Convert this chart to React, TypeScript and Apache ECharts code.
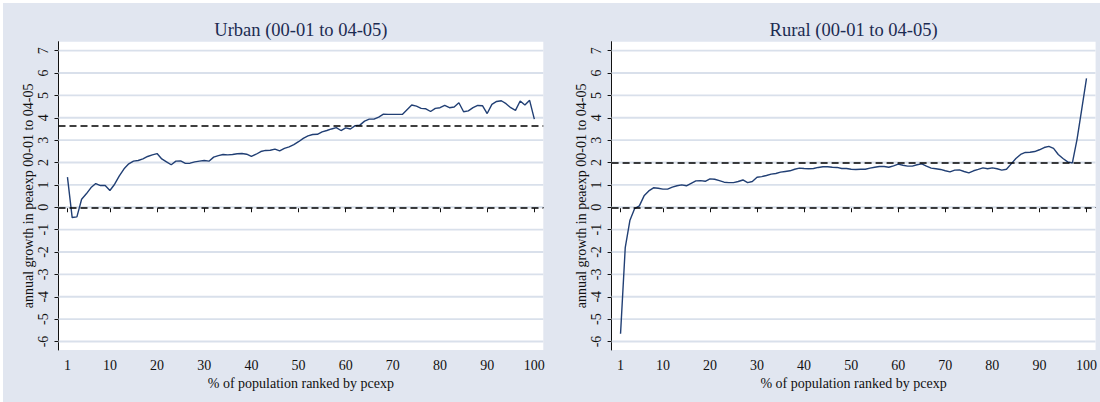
import React, { useEffect, useRef } from "react";
import * as echarts from "echarts";

const percentiles: number[] = Array.from({ length: 100 }, (_, i) => i + 1);

const urbanGrowth: number[] = [
  1.35, -0.46, -0.43, 0.36, 0.6, 0.88, 1.06, 0.97, 0.97, 0.75,
  1.03, 1.4, 1.72, 1.94, 2.06, 2.09, 2.16, 2.27, 2.34, 2.4,
  2.16, 2.03, 1.9, 2.06, 2.07, 1.96, 1.97, 2.03, 2.06, 2.09,
  2.06, 2.24, 2.31, 2.36, 2.34, 2.36, 2.39, 2.4, 2.37, 2.27,
  2.37, 2.49, 2.54, 2.55, 2.6, 2.52, 2.63, 2.7, 2.8, 2.93,
  3.08, 3.19, 3.25, 3.26, 3.37, 3.43, 3.5, 3.56, 3.43, 3.55,
  3.5, 3.65, 3.67, 3.85, 3.94, 3.94, 4.03, 4.16, 4.15, 4.15,
  4.15, 4.15, 4.36, 4.57, 4.52, 4.42, 4.4, 4.28, 4.42, 4.45,
  4.55, 4.45, 4.48, 4.67, 4.27, 4.31, 4.45, 4.55, 4.54, 4.19,
  4.6, 4.73, 4.76, 4.63, 4.45, 4.33, 4.75, 4.57, 4.78, 3.94,
];

const ruralGrowth: number[] = [
  -5.65, -1.8, -0.58, -0.06, 0.06, 0.51, 0.73, 0.87, 0.85, 0.81,
  0.81, 0.9, 0.96, 1.0, 0.96, 1.07, 1.18, 1.19, 1.16, 1.27,
  1.25, 1.19, 1.12, 1.1, 1.1, 1.15, 1.22, 1.1, 1.15, 1.34,
  1.37, 1.42, 1.48, 1.51, 1.57, 1.6, 1.63, 1.7, 1.75, 1.73,
  1.72, 1.73, 1.78, 1.81, 1.81, 1.79, 1.78, 1.73, 1.73, 1.7,
  1.69, 1.7, 1.7, 1.75, 1.79, 1.82, 1.82, 1.79, 1.85, 1.93,
  1.88, 1.84, 1.84, 1.9, 1.94, 1.84, 1.75, 1.72, 1.69, 1.63,
  1.58, 1.66, 1.67, 1.6, 1.54, 1.63, 1.69, 1.76, 1.72, 1.76,
  1.72, 1.66, 1.7, 1.94, 2.18, 2.36, 2.45, 2.46, 2.49, 2.57,
  2.67, 2.72, 2.63, 2.36, 2.18, 2.03, 1.98, 3.05, 4.4, 5.76,
];

const urbanMean = 3.63;
const ruralMean = 1.97;

const xTicks: number[] = [1, 10, 20, 30, 40, 50, 60, 70, 80, 90, 100];
const yTicks: number[] = [-6, -5, -4, -3, -2, -1, 0, 1, 2, 3, 4, 5, 6, 7];

const panelTitles: string[] = ["Urban (00-01 to 04-05)", "Rural (00-01 to 04-05)"];
const xTitle = "% of population ranked by pcexp";
const yTitle = "annual growth in peaexp 00-01 to 04-05";

const FONT = "'Liberation Serif', 'DejaVu Serif', serif";
const BG = "#e1e6f0";
const GRIDLINE = "#d9e0eb";
const LINE = "#213f74";
const TITLE_COLOR = "#1c2b52";

const X_MIN = -0.9;
const X_MAX = 101.9;

export default function App() {
  const ref = useRef<HTMLDivElement>(null);

  useEffect(() => {
    if (!ref.current) return;
    const chart = echarts.init(ref.current, undefined, { renderer: "svg" });

    const grids = [
      { left: 55.5, top: 38.7, width: 484.8, height: 308.3 },
      { left: 608.6, top: 38.7, width: 484, height: 308.3 },
    ];

    const xAxis = grids.map((_, i) => ({
      type: "value",
      gridIndex: i,
      min: X_MIN,
      max: X_MAX,
      name: xTitle,
      nameLocation: "middle",
      nameGap: 22.5,
      nameTextStyle: { fontFamily: FONT, fontSize: 14, color: "#111" },
      axisLine: { show: true, lineStyle: { color: "#111", width: 1 } },
      axisTick: { show: true, length: 5, lineStyle: { color: "#111" }, customValues: xTicks },
      axisLabel: {
        show: true,
        customValues: xTicks,
        margin: 8,
        fontFamily: FONT,
        fontSize: 14,
        color: "#111",
      },
      splitLine: { show: false },
    }));

    const yAxis = grids.map((_, i) => ({
      type: "value",
      gridIndex: i,
      min: -6.38,
      max: 7.4,
      name: yTitle,
      nameLocation: "middle",
      nameRotate: 90,
      nameGap: 22,
      nameTextStyle: { fontFamily: FONT, fontSize: 14, color: "#111" },
      axisLine: { show: true, onZero: false, lineStyle: { color: "#111", width: 1 } },
      axisTick: { show: true, length: 4, lineStyle: { color: "#111" }, customValues: yTicks },
      axisLabel: {
        show: true,
        customValues: yTicks,
        rotate: 90,
        margin: 8,
        fontFamily: FONT,
        fontSize: 14,
        color: "#111",
      },
      splitLine: { show: false },
    }));

    const gridLineSeries = (i: number) => ({
      type: "custom",
      name: "gridlines" + i,
      xAxisIndex: i,
      yAxisIndex: i,
      silent: true,
      z: 1,
      clip: false,
      data: yTicks.map((v) => [0, v]),
      renderItem: (_params: any, api: any) => {
        const v = api.value(1);
        const p1 = api.coord([X_MIN, v]);
        const p2 = api.coord([X_MAX, v]);
        return {
          type: "line",
          shape: { x1: p1[0], y1: p1[1], x2: p2[0], y2: p2[1] },
          style: { stroke: GRIDLINE, lineWidth: 1.8, fill: null },
        };
      },
    });

    const meanMarks = (mean: number) => ({
      silent: true,
      symbol: ["none", "none"],
      label: { show: false },
      lineStyle: { color: "#000", type: [7, 4], width: 1.5 },
      data: [{ yAxis: mean }, { yAxis: 0 }],
    });

    chart.setOption({
      animation: false,
      backgroundColor: "transparent",
      textStyle: { fontFamily: FONT },
      grid: grids.map((g) => ({ ...g, show: false })),
      xAxis,
      yAxis,
      graphic: [
        ...grids.map((g) => ({
          type: "rect",
          z: -100,
          silent: true,
          shape: { x: g.left, y: g.top, width: g.width, height: g.height },
          style: { fill: "#ffffff" },
        })),
        ...panelTitles.map((t, i) => ({
          type: "text",
          x: grids[i].left + grids[i].width / 2,
          y: 27,
          style: {
            text: t,
            textAlign: "center",
            textVerticalAlign: "middle",
            font: `18.5px ${FONT}`,
            fill: TITLE_COLOR,
          },
        })),
      ],
      series: [
        gridLineSeries(0),
        gridLineSeries(1),
        {
          type: "line",
          name: "urban",
          xAxisIndex: 0,
          yAxisIndex: 0,
          z: 3,
          data: percentiles.map((p, i) => [p, urbanGrowth[i]]),
          symbol: "none",
          lineStyle: { color: LINE, width: 1.4 },
          markLine: meanMarks(urbanMean),
        },
        {
          type: "line",
          name: "rural",
          xAxisIndex: 1,
          yAxisIndex: 1,
          z: 3,
          data: percentiles.map((p, i) => [p, ruralGrowth[i]]),
          symbol: "none",
          lineStyle: { color: LINE, width: 1.4 },
          markLine: meanMarks(ruralMean),
        },
      ],
    });

    return () => chart.dispose();
  }, []);

  return (
    <div style={{ position: "absolute", left: 0, top: 0, width: 1100, height: 402, background: "#fff" }}>
      <div
        ref={ref}
        style={{ position: "absolute", left: 3, top: 3, width: 1097, height: 399, background: BG }}
      />
    </div>
  );
}
